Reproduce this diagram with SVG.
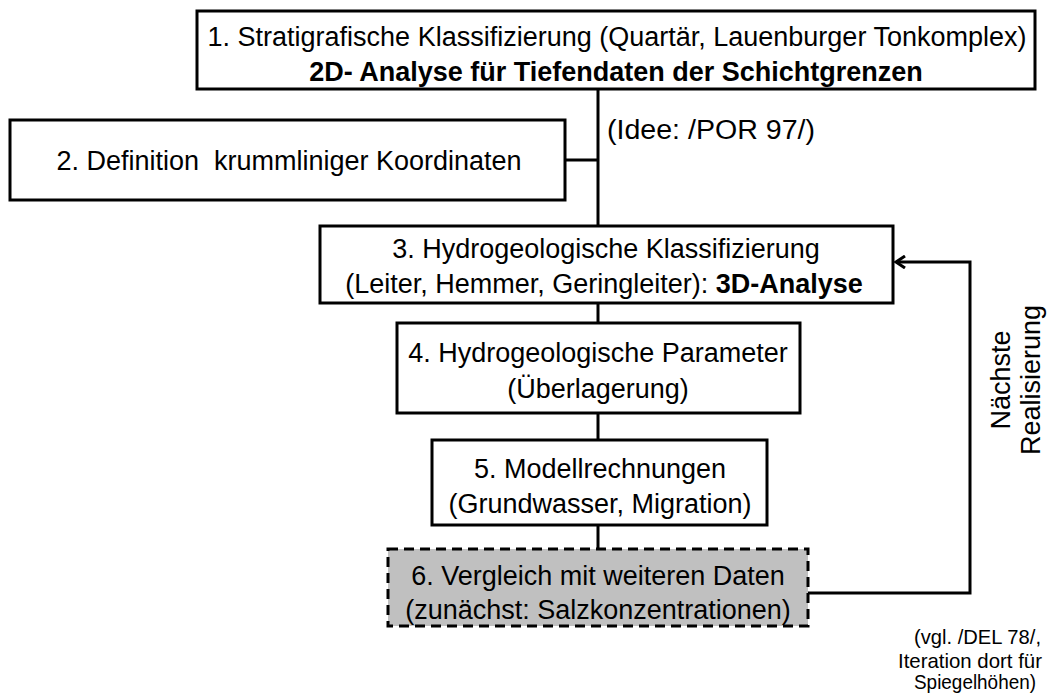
<svg xmlns="http://www.w3.org/2000/svg" width="1050" height="695" viewBox="0 0 1050 695">
<style>
text{font-family:"Liberation Sans",Arial,sans-serif;font-size:27px;fill:#000}
.c{text-anchor:middle}
.b{font-weight:bold}
.s{font-size:21px}
.box{fill:#fff;stroke:#000;stroke-width:3}
.ln{fill:none;stroke:#000;stroke-width:3}
</style>
<defs>
<marker id="ah" markerWidth="12" markerHeight="14" refX="10" refY="7" orient="auto" markerUnits="userSpaceOnUse">
<path d="M1,1 L10,7 L1,13" fill="none" stroke="#000" stroke-width="3"/>
</marker>
</defs>
<g id="connectors">
<path class="ln" d="M598,89 V226"/>
<path class="ln" d="M565,160 H598"/>
<path class="ln" d="M598,303 V323"/>
<path class="ln" d="M598,413 V440"/>
<path class="ln" d="M598,525 V549"/>
<path class="ln" d="M808,593 H970 V262 H896" marker-end="url(#ah)"/>
</g>
<g id="n1">
<rect class="box" x="197" y="11" width="838" height="78"/>
<text class="c" x="617" y="46">1. Stratigrafische Klassifizierung (Quartär, Lauenburger Tonkomplex)</text>
<text class="c b" x="616" y="81">2D- Analyse für Tiefendaten der Schichtgrenzen</text>
</g>
<g id="n2">
<rect class="box" x="10" y="120" width="555" height="80"/>
<text class="c" x="289" y="170" xml:space="preserve">2. Definition  krummliniger Koordinaten</text>
</g>
<text x="607" y="139" textLength="208" lengthAdjust="spacingAndGlyphs">(Idee: /POR 97/)</text>
<g id="n3">
<rect class="box" x="320" y="226" width="573" height="77"/>
<text class="c" x="606" y="258">3. Hydrogeologische Klassifizierung</text>
<text class="c" x="604" y="293">(Leiter, Hemmer, Geringleiter): <tspan class="b">3D-Analyse</tspan></text>
</g>
<g id="n4">
<rect class="box" x="397" y="323" width="403" height="90"/>
<text class="c" x="598" y="362">4. Hydrogeologische Parameter</text>
<text class="c" x="598" y="398">(Überlagerung)</text>
</g>
<g id="n5">
<rect class="box" x="432" y="440" width="335" height="85"/>
<text class="c" x="600" y="478">5. Modellrechnungen</text>
<text class="c" x="600" y="513">(Grundwasser, Migration)</text>
</g>
<g id="n6">
<rect x="388" y="549" width="420" height="77" fill="#c0c0c0" stroke="#000" stroke-width="3" stroke-dasharray="10,6"/>
<text class="c" x="598" y="585">6. Vergleich mit weiteren Daten</text>
<text class="c" x="598" y="619">(zunächst: Salzkonzentrationen)</text>
</g>
<text class="c" transform="translate(1010,380) rotate(-90)" font-size="26">Nächste</text>
<text class="c" transform="translate(1040,380) rotate(-90)" font-size="26">Realisierung</text>
<text x="914" y="644" class="s" textLength="127" lengthAdjust="spacingAndGlyphs">(vgl. /DEL 78/,</text>
<text x="898" y="668" class="s" textLength="144" lengthAdjust="spacingAndGlyphs">Iteration dort für</text>
<text x="914" y="689" class="s" textLength="122" lengthAdjust="spacingAndGlyphs">Spiegelhöhen)</text>
</svg>
